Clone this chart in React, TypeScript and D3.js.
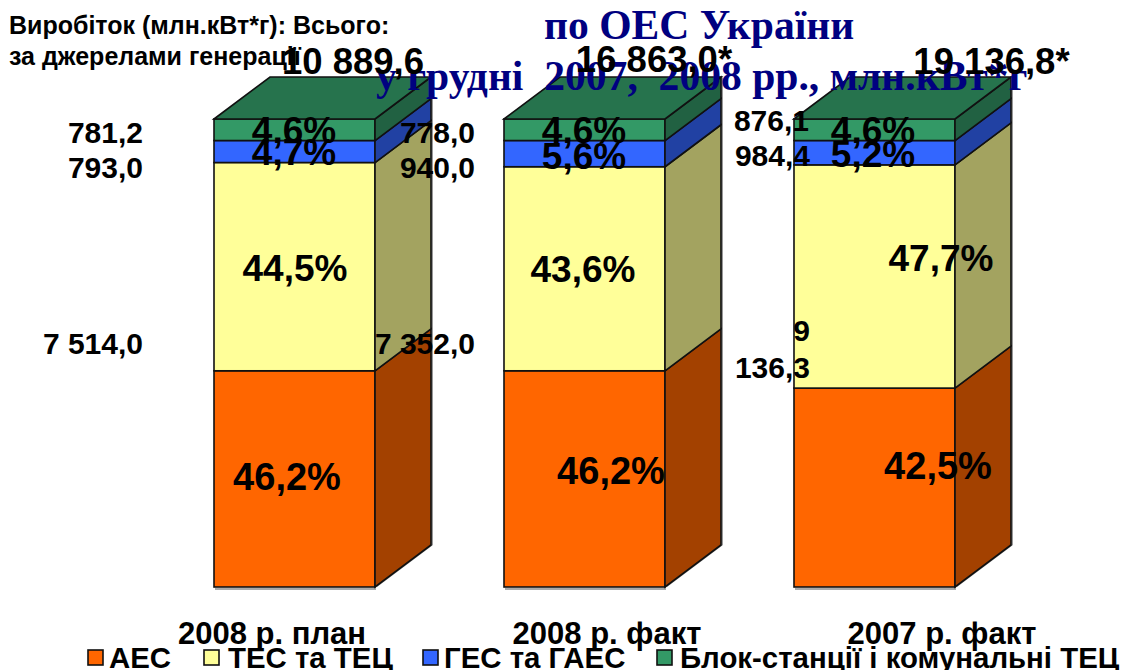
import React from 'react'
import * as d3 from 'd3'

const categories = ['2008 р. план', '2008 р. факт', '2007 р. факт']
const seriesNames = ['АЕС', 'ТЕС та ТЕЦ', 'ГЕС та ГАЕС', 'Блок-станції і комунальні ТЕЦ']
const aes = [46.2, 46.2, 42.5]
const tes = [44.5, 43.6, 47.7]
const ges = [4.7, 5.6, 5.2]
const blok = [4.6, 4.6, 4.6]
const totals = ['10 889,6', '16 863,0*', '19 136,8*']
const tesValues = ['7 514,0', '7 352,0', '']
const gesValues = ['793,0', '940,0', '984,4']
const blokValues = ['781,2', '778,0', '876,1']

const frontColors = ['#ff6600', '#ffff99', '#3366ff', '#339966']
const sideColors = ['#a34100', '#a3a360', '#2141a3', '#216142']
const topColor = '#26734d'
const sans = '"Liberation Sans", Arial, sans-serif'
const serif = '"Liberation Serif", "Times New Roman", serif'

const depthX = 56
const depthY = 42

const rows = categories.map((c, i) => ({ c, s0: aes[i], s1: tes[i], s2: ges[i], s3: blok[i] }))
const keys = ['s0', 's1', 's2', 's3']
const stacked = d3.stack<any>().keys(keys)(rows)

const xScale = d3.scaleBand().domain(categories).range([214, 955]).paddingInner(0.4448).paddingOuter(0)
const yScale = d3.scaleLinear().domain([0, 100]).range([587, 119])
const poly = d3.line<[number, number]>().curve(d3.curveLinearClosed)

// hand placed, the labels in the original don't follow the bars
const pctX = [[287, 295, 294, 294], [611, 583, 584, 584], [938, 941, 873, 873]]
const pctY = [[490, 281, 165, 143], [484, 282, 169, 143], [479, 271, 167, 143]]
const legendX = [88, 204, 423, 657]
const legendTextX = [109, 228, 444, 680]

export default function App() {
  const bw = xScale.bandwidth()
  return (
    <svg width={1123} height={670} style={{ position: 'absolute', left: 0, top: 0, display: 'block', background: '#fff' }}>
      {categories.map((c, i) => {
        const x0 = xScale(c) as number
        const x1 = x0 + bw
        const top = yScale(100)
        return (
          <g key={c}>
            <path d={poly([[x1 + 2, 587], [x1 + depthX + 2, 587 - depthY], [x1 + depthX + 2, top - depthY], [x1 + 2, top]]) as string} fill="#999" />
            <rect x={x0 + 1} y={588} width={bw} height={2} fill="#aaa" />
            {stacked.map((layer, k) => {
              const yb = yScale(layer[i][0])
              const yt = yScale(layer[i][1])
              return (
                <g key={k}>
                  <rect x={x0} y={yt} width={bw} height={yb - yt} fill={frontColors[k]} stroke="#111" strokeWidth={1.6} />
                  <path
                    d={poly([[x1, yb], [x1 + depthX, yb - depthY], [x1 + depthX, yt - depthY], [x1, yt]]) as string}
                    fill={sideColors[k]}
                    stroke="#111"
                    strokeWidth={1.6}
                  />
                </g>
              )
            })}
            <path
              d={poly([[x0, top], [x0 + depthX, top - depthY], [x1 + depthX, top - depthY], [x1, top]]) as string}
              fill={topColor}
              stroke="#111"
              strokeWidth={1.6}
            />
          </g>
        )
      })}

      <g fontFamily={sans} fontWeight="bold" fill="#000" fontSize={25}>
        <text x={9} y={34}>Виробіток (млн.кВт*г): Всього:</text>
        <text x={9} y={65}>за джерелами генерації</text>
      </g>

      <g fontFamily={serif} fontWeight="bold" fill="#000080" fontSize={41.6}>
        <text x={544} y={39}>по ОЕС України</text>
        <text x={376} y={90} xmlSpace="preserve">у грудні  2007,  2008 рр., млн.кВт*г</text>
      </g>

      <g fontFamily={sans} fontWeight="bold" fill="#000">
        {totals.map((t, i) => (
          <text key={t} x={[353, 654, 991.5][i]} y={[74, 72, 74][i]} fontSize={36.5} textAnchor="middle">{t}</text>
        ))}
        {blokValues.map((v, i) => (
          <text key={v} x={[143, 475, 809][i]} y={[143, 143, 131][i]} fontSize={30} textAnchor="end">{v}</text>
        ))}
        {gesValues.map((v, i) => (
          <text key={v} x={[143, 475, 810][i]} y={[178, 178, 166][i]} fontSize={30} textAnchor="end">{v}</text>
        ))}
        {tesValues.map((v, i) => v && (
          <text key={v} x={[143, 475][i]} y={354} fontSize={30} textAnchor="end">{v}</text>
        ))}
        <text x={810} y={341} fontSize={30} textAnchor="end">9</text>
        <text x={810} y={378} fontSize={30} textAnchor="end">136,3</text>

        {rows.map((r, i) =>
          keys.map((k, j) => (
            <text key={k + i} x={pctX[i][j]} y={pctY[i][j]} fontSize={j === 0 ? 38 : 37} textAnchor="middle">
              {String((r as any)[k].toFixed(1)).replace('.', ',')}%
            </text>
          ))
        )}

        {categories.map((c, i) => (
          <text key={c} x={[272, 607, 942][i]} y={644} fontSize={31} textAnchor="middle">{c}</text>
        ))}

        {seriesNames.map((s, i) => (
          <g key={s}>
            <rect x={legendX[i]} y={650} width={15} height={15} fill={frontColors[i]} stroke="#111" strokeWidth={1.6} />
            <text x={legendTextX[i]} y={668} fontSize={29.4}>{s}</text>
          </g>
        ))}
      </g>
    </svg>
  )
}
